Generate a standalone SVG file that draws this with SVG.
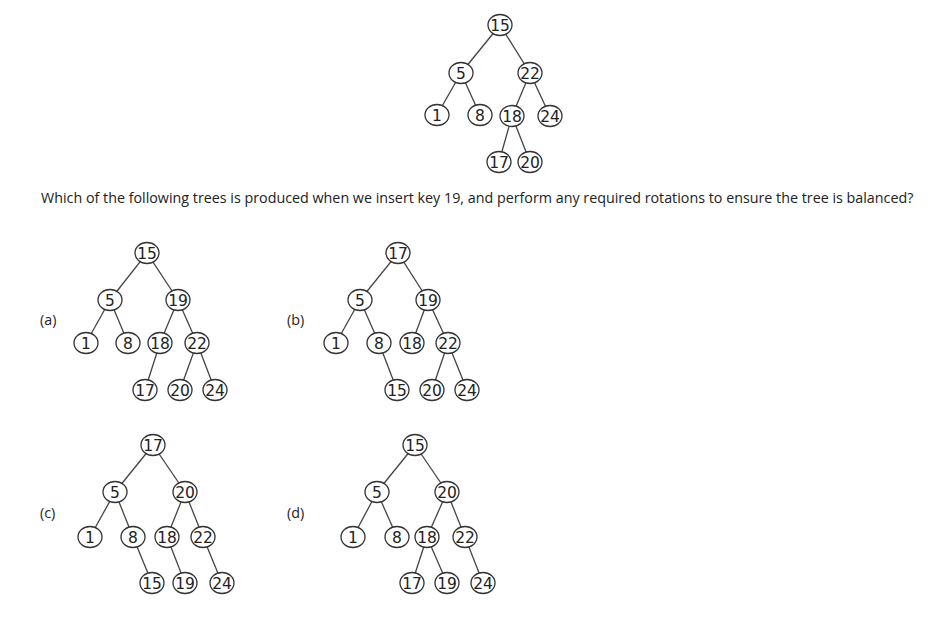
<svg xmlns="http://www.w3.org/2000/svg" width="945" height="619" viewBox="0 0 945 619">
<style>
.n ellipse{fill:#fff;stroke:#333;stroke-width:1.3}
.n text{font-family:"DejaVu Sans",sans-serif;font-size:15.5px;fill:#222;text-anchor:middle}
.e line{stroke:#444;stroke-width:1.3}
.lbl{font-family:"Open Sans",sans-serif;font-size:14.3px;fill:#222}
</style>
<rect width="945" height="619" fill="#fff"/>
<g class="e" id="connectors">
<line x1="500" y1="25" x2="461" y2="73"/><line x1="500" y1="25" x2="530" y2="73"/>
<line x1="461" y1="73" x2="437" y2="115"/><line x1="461" y1="73" x2="480" y2="115"/>
<line x1="530" y1="73" x2="512" y2="116"/><line x1="530" y1="73" x2="550" y2="116"/>
<line x1="512" y1="116" x2="499" y2="162"/><line x1="512" y1="116" x2="530" y2="162"/>
<line x1="147" y1="253" x2="110" y2="300"/><line x1="147" y1="253" x2="178" y2="300"/>
<line x1="110" y1="300" x2="86" y2="343"/><line x1="110" y1="300" x2="128" y2="343"/>
<line x1="178" y1="300" x2="160" y2="343"/><line x1="178" y1="300" x2="197" y2="343"/>
<line x1="160" y1="343" x2="145" y2="390"/><line x1="197" y1="343" x2="180" y2="390"/><line x1="197" y1="343" x2="215" y2="390"/>
<line x1="398" y1="253" x2="360" y2="300"/><line x1="398" y1="253" x2="428" y2="300"/>
<line x1="360" y1="300" x2="336" y2="343"/><line x1="360" y1="300" x2="379" y2="343"/>
<line x1="428" y1="300" x2="412" y2="343"/><line x1="428" y1="300" x2="448" y2="343"/>
<line x1="379" y1="343" x2="397" y2="390"/><line x1="448" y1="343" x2="432" y2="390"/><line x1="448" y1="343" x2="467" y2="390"/>
<line x1="153" y1="445" x2="115" y2="492"/><line x1="153" y1="445" x2="185" y2="492"/>
<line x1="115" y1="492" x2="90" y2="537"/><line x1="115" y1="492" x2="133" y2="537"/>
<line x1="185" y1="492" x2="167" y2="537"/><line x1="185" y1="492" x2="203" y2="537"/>
<line x1="133" y1="537" x2="152" y2="583"/><line x1="167" y1="537" x2="185" y2="583"/><line x1="203" y1="537" x2="222" y2="583"/>
<line x1="415" y1="445" x2="377" y2="492"/><line x1="415" y1="445" x2="447" y2="492"/>
<line x1="377" y1="492" x2="353" y2="537"/><line x1="377" y1="492" x2="397" y2="537"/>
<line x1="447" y1="492" x2="427" y2="537"/><line x1="447" y1="492" x2="465" y2="537"/>
<line x1="427" y1="537" x2="412" y2="583"/><line x1="427" y1="537" x2="447" y2="583"/><line x1="465" y1="537" x2="483" y2="583"/>
</g>
<g class="n" id="t-15"><ellipse cx="500" cy="25" rx="12" ry="10.5"/><text x="500" y="30.6">15</text></g>
<g class="n" id="t-5"><ellipse cx="461" cy="73" rx="12" ry="10.5"/><text x="461" y="78.6">5</text></g>
<g class="n" id="t-22"><ellipse cx="530" cy="73" rx="12" ry="10.5"/><text x="530" y="78.6">22</text></g>
<g class="n" id="t-1"><ellipse cx="437" cy="115" rx="12" ry="10.5"/><text x="437" y="120.6">1</text></g>
<g class="n" id="t-8"><ellipse cx="480" cy="115" rx="12" ry="10.5"/><text x="480" y="120.6">8</text></g>
<g class="n" id="t-18"><ellipse cx="512" cy="116" rx="12" ry="10.5"/><text x="512" y="121.6">18</text></g>
<g class="n" id="t-24"><ellipse cx="550" cy="116" rx="12" ry="10.5"/><text x="550" y="121.6">24</text></g>
<g class="n" id="t-17"><ellipse cx="499" cy="162" rx="12" ry="10.5"/><text x="499" y="167.6">17</text></g>
<g class="n" id="t-20"><ellipse cx="530" cy="162" rx="12" ry="10.5"/><text x="530" y="167.6">20</text></g>
<text class="lbl" x="41" y="203">Which of the following trees is produced when we insert key 19, and perform any required rotations to ensure the tree is balanced?</text>
<text class="lbl" x="40" y="325">(a)</text>
<g class="n" id="a-15"><ellipse cx="147" cy="253" rx="12" ry="10.5"/><text x="147" y="258.6">15</text></g>
<g class="n" id="a-5"><ellipse cx="110" cy="300" rx="12" ry="10.5"/><text x="110" y="305.6">5</text></g>
<g class="n" id="a-19"><ellipse cx="178" cy="300" rx="12" ry="10.5"/><text x="178" y="305.6">19</text></g>
<g class="n" id="a-1"><ellipse cx="86" cy="343" rx="12" ry="10.5"/><text x="86" y="348.6">1</text></g>
<g class="n" id="a-8"><ellipse cx="128" cy="343" rx="12" ry="10.5"/><text x="128" y="348.6">8</text></g>
<g class="n" id="a-18"><ellipse cx="160" cy="343" rx="12" ry="10.5"/><text x="160" y="348.6">18</text></g>
<g class="n" id="a-22"><ellipse cx="197" cy="343" rx="12" ry="10.5"/><text x="197" y="348.6">22</text></g>
<g class="n" id="a-17"><ellipse cx="145" cy="390" rx="12" ry="10.5"/><text x="145" y="395.6">17</text></g>
<g class="n" id="a-20"><ellipse cx="180" cy="390" rx="12" ry="10.5"/><text x="180" y="395.6">20</text></g>
<g class="n" id="a-24"><ellipse cx="215" cy="390" rx="12" ry="10.5"/><text x="215" y="395.6">24</text></g>
<text class="lbl" x="287" y="325">(b)</text>
<g class="n" id="b-17"><ellipse cx="398" cy="253" rx="12" ry="10.5"/><text x="398" y="258.6">17</text></g>
<g class="n" id="b-5"><ellipse cx="360" cy="300" rx="12" ry="10.5"/><text x="360" y="305.6">5</text></g>
<g class="n" id="b-19"><ellipse cx="428" cy="300" rx="12" ry="10.5"/><text x="428" y="305.6">19</text></g>
<g class="n" id="b-1"><ellipse cx="336" cy="343" rx="12" ry="10.5"/><text x="336" y="348.6">1</text></g>
<g class="n" id="b-8"><ellipse cx="379" cy="343" rx="12" ry="10.5"/><text x="379" y="348.6">8</text></g>
<g class="n" id="b-18"><ellipse cx="412" cy="343" rx="12" ry="10.5"/><text x="412" y="348.6">18</text></g>
<g class="n" id="b-22"><ellipse cx="448" cy="343" rx="12" ry="10.5"/><text x="448" y="348.6">22</text></g>
<g class="n" id="b-15"><ellipse cx="397" cy="390" rx="12" ry="10.5"/><text x="397" y="395.6">15</text></g>
<g class="n" id="b-20"><ellipse cx="432" cy="390" rx="12" ry="10.5"/><text x="432" y="395.6">20</text></g>
<g class="n" id="b-24"><ellipse cx="467" cy="390" rx="12" ry="10.5"/><text x="467" y="395.6">24</text></g>
<text class="lbl" x="40" y="518">(c)</text>
<g class="n" id="c-17"><ellipse cx="153" cy="445" rx="12" ry="10.5"/><text x="153" y="450.6">17</text></g>
<g class="n" id="c-5"><ellipse cx="115" cy="492" rx="12" ry="10.5"/><text x="115" y="497.6">5</text></g>
<g class="n" id="c-20"><ellipse cx="185" cy="492" rx="12" ry="10.5"/><text x="185" y="497.6">20</text></g>
<g class="n" id="c-1"><ellipse cx="90" cy="537" rx="12" ry="10.5"/><text x="90" y="542.6">1</text></g>
<g class="n" id="c-8"><ellipse cx="133" cy="537" rx="12" ry="10.5"/><text x="133" y="542.6">8</text></g>
<g class="n" id="c-18"><ellipse cx="167" cy="537" rx="12" ry="10.5"/><text x="167" y="542.6">18</text></g>
<g class="n" id="c-22"><ellipse cx="203" cy="537" rx="12" ry="10.5"/><text x="203" y="542.6">22</text></g>
<g class="n" id="c-15"><ellipse cx="152" cy="583" rx="12" ry="10.5"/><text x="152" y="588.6">15</text></g>
<g class="n" id="c-19"><ellipse cx="185" cy="583" rx="12" ry="10.5"/><text x="185" y="588.6">19</text></g>
<g class="n" id="c-24"><ellipse cx="222" cy="583" rx="12" ry="10.5"/><text x="222" y="588.6">24</text></g>
<text class="lbl" x="287" y="518">(d)</text>
<g class="n" id="d-15"><ellipse cx="415" cy="445" rx="12" ry="10.5"/><text x="415" y="450.6">15</text></g>
<g class="n" id="d-5"><ellipse cx="377" cy="492" rx="12" ry="10.5"/><text x="377" y="497.6">5</text></g>
<g class="n" id="d-20"><ellipse cx="447" cy="492" rx="12" ry="10.5"/><text x="447" y="497.6">20</text></g>
<g class="n" id="d-1"><ellipse cx="353" cy="537" rx="12" ry="10.5"/><text x="353" y="542.6">1</text></g>
<g class="n" id="d-8"><ellipse cx="397" cy="537" rx="12" ry="10.5"/><text x="397" y="542.6">8</text></g>
<g class="n" id="d-18"><ellipse cx="427" cy="537" rx="12" ry="10.5"/><text x="427" y="542.6">18</text></g>
<g class="n" id="d-22"><ellipse cx="465" cy="537" rx="12" ry="10.5"/><text x="465" y="542.6">22</text></g>
<g class="n" id="d-17"><ellipse cx="412" cy="583" rx="12" ry="10.5"/><text x="412" y="588.6">17</text></g>
<g class="n" id="d-19"><ellipse cx="447" cy="583" rx="12" ry="10.5"/><text x="447" y="588.6">19</text></g>
<g class="n" id="d-24"><ellipse cx="483" cy="583" rx="12" ry="10.5"/><text x="483" y="588.6">24</text></g>
</svg>
